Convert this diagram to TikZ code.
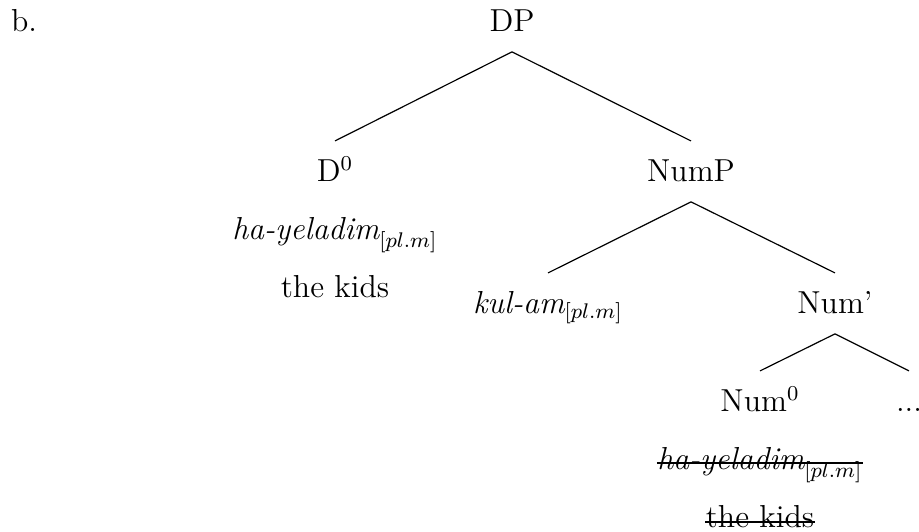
\documentclass[tikz,border=0pt]{standalone}
\begin{document}
\begin{tikzpicture}[x=0.3774pt,y=-0.3774pt,
  font=\fontsize{12}{14.4}\selectfont,
  lab/.style={anchor=base,inner sep=0pt},
  edge/.style={line width=0.45pt},
  strike/.style={line width=0.8pt}]
\useasboundingbox (0,0) rectangle (919,532);
\node[lab] (b) at (24,32) {b.};
\node[lab] (DP) at (512,32) {DP};
\node[lab] (D0) at (335,182) {D$^0$};
\node[lab] (hy1) at (335,240) {$\textit{ha-yeladim}_{[pl.m]}$};
\node[lab] (tk1) at (335,298) {the kids};
\node[lab] (NumP) at (691,182) {NumP};
\node[lab] (kul) at (548,314) {$\textit{kul-am}_{[pl.m]}$};
\node[lab] (Numb) at (835,314) {Num'};
\node[lab] (Num0) at (760,412) {Num$^0$};
\node[lab] (dots) at (909,412) {...};
\node[lab] (hy2) at (760,470) {$\textit{ha-yeladim}_{[pl.m]}$};
\node[lab] (tk2) at (760,528) {the kids};
\draw[edge] ([yshift=-7.5pt]DP.base) -- ([yshift=15.5pt]D0.base);
\draw[edge] ([yshift=-7.5pt]DP.base) -- ([yshift=15.5pt]NumP.base);
\draw[edge] ([yshift=-7.5pt]NumP.base) -- ([yshift=15.5pt]kul.base);
\draw[edge] ([yshift=-7.5pt]NumP.base) -- ([yshift=15.5pt]Numb.base);
\draw[edge] ([yshift=-7.5pt]Numb.base) -- ([yshift=15.5pt]Num0.base);
\draw[edge] ([yshift=-7.5pt]Numb.base) -- ([yshift=15.5pt]dots.base);
\draw[strike] ([yshift=2.6pt]hy2.base west) -- ([yshift=2.6pt]hy2.base east);
\draw[strike] ([yshift=2.4pt]tk2.base west) -- ([yshift=2.4pt]tk2.base east);
\end{tikzpicture}
\end{document}
